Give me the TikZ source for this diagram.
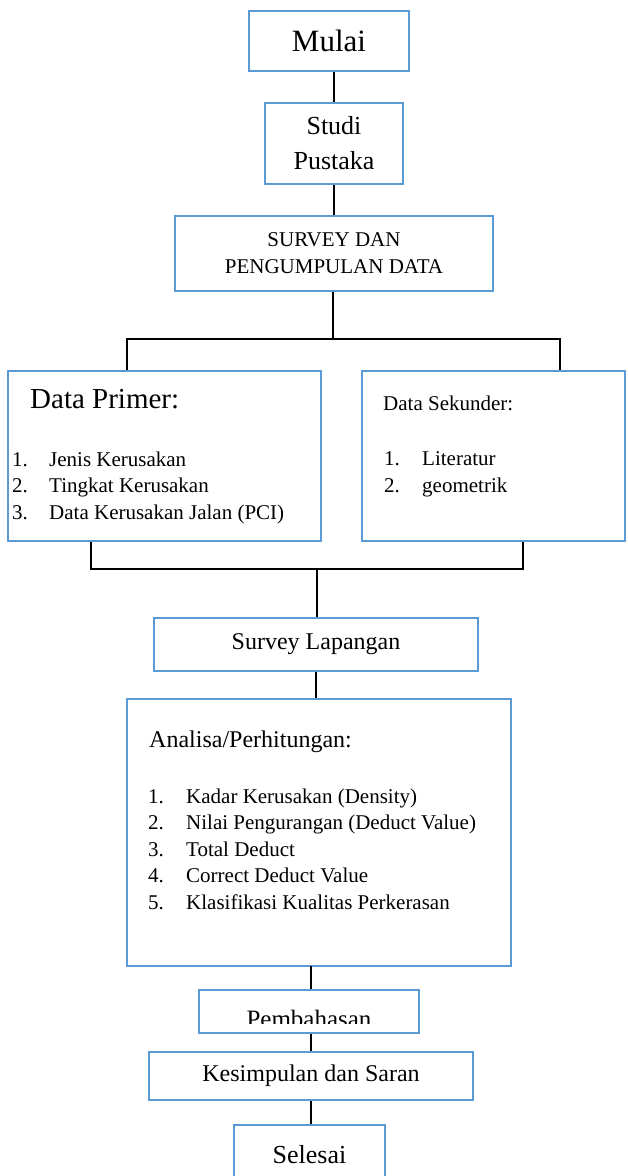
\documentclass[tikz,border=0pt]{standalone}
\usepackage{fontspec}
\setmainfont{Liberation Serif}
\usetikzlibrary{calc}
\definecolor{boxblue}{RGB}{91, 155, 213}

\begin{document}
\begin{tikzpicture}[
    x = 1pt, y = -1pt,
    box/.style = {draw = boxblue, line width = 2pt, inner sep = 0pt, align = center},
    ln/.style = {line width = 1.8pt},
    lbl/.style = {anchor = base west, inner sep = 0pt},
]
\useasboundingbox (0,0) rectangle (627,1176);

% top part
\node[box, minimum width = 160pt, minimum height = 60pt, font = \fontsize{31}{37}\selectfont] (mulai) at (329,41) {Mulai};
\node[box, minimum width = 138pt, minimum height = 81pt, font = \fontsize{26}{35}\selectfont] (studi) at (334,143.5) {Studi\\Pustaka};
\node[box, minimum width = 318pt, minimum height = 75pt, font = \fontsize{21}{27}\selectfont] (survey) at (334,253.5) {SURVEY DAN\\PENGUMPULAN DATA};

\draw[ln] (studi.north |- mulai.south) -- (studi.north);
\draw[ln] (studi.south) -- (studi.south |- survey.north);

% data boxes
\node[box, minimum width = 313pt, minimum height = 170pt] (primer) at (164.5,456) {};
\node[box, minimum width = 263pt, minimum height = 170pt] (sekunder) at (493.5,456) {};

\node[lbl, font = \fontsize{29}{35}\selectfont] (primer-t) at (30,408) {Data Primer:};
\foreach \i/\txt/\y in {1/Jenis Kerusakan/466, 2/Tingkat Kerusakan/492.5, 3/Data Kerusakan Jalan (PCI)/519} {
    \node[lbl, font = \fontsize{21}{26}\selectfont] (primer-n\i) at (12,\y) {\i.};
    \node[lbl, font = \fontsize{21}{26}\selectfont] (primer-\i) at (49,\y) {\txt};
}

\node[lbl, font = \fontsize{21}{26}\selectfont] (sekunder-t) at (383,410) {Data Sekunder:};
\foreach \i/\txt/\y in {1/Literatur/465, 2/geometrik/492} {
    \node[lbl, font = \fontsize{21}{26}\selectfont] (sekunder-n\i) at (384,\y) {\i.};
    \node[lbl, font = \fontsize{21}{26}\selectfont] (sekunder-\i) at (422,\y) {\txt};
}

\coordinate (split) at (333,339);
\coordinate (splitl) at (127,339);
\coordinate (splitr) at (560,339);
\draw[ln] (survey.south -| split) -- (split);
\draw[ln] (splitl |- primer.north) -- (splitl) -- (splitr) -- (splitr |- sekunder.north);

\coordinate (joinl) at (91,569);
\coordinate (joinr) at (523,569);
\coordinate (join) at (317,569);
\draw[ln] (joinl |- primer.south) -- (joinl) -- (joinr) -- (joinr |- sekunder.south);

% lower part
\node[box, minimum width = 324pt, minimum height = 53pt, font = \fontsize{24}{29}\selectfont] (lapangan) at (316,644.5) {Survey Lapangan};
\draw[ln] (join) -- (join |- lapangan.north);

\node[box, minimum width = 384pt, minimum height = 267pt] (analisa) at (319,832.5) {};
\node[lbl, font = \fontsize{24}{29}\selectfont] (analisa-t) at (149,747) {Analisa/Perhitungan:};
\foreach \i/\txt/\y in {1/Kadar Kerusakan (Density)/803, 2/Nilai Pengurangan (Deduct Value)/829.5,
                        3/Total Deduct/856, 4/Correct Deduct Value/882.5, 5/Klasifikasi Kualitas Perkerasan/909} {
    \node[lbl, font = \fontsize{21}{26}\selectfont] (analisa-n\i) at (148,\y) {\i.};
    \node[lbl, font = \fontsize{21}{26}\selectfont] (analisa-\i) at (186,\y) {\txt};
}
\draw[ln] (lapangan.south) -- (lapangan.south |- analisa.north);

\node[box, minimum width = 220pt, minimum height = 43pt] (bahas) at (309,1011.5) {};
\begin{scope}
\clip (199,990) rectangle (419,1023);
\node[anchor = base, inner sep = 0pt, font = \fontsize{25}{30}\selectfont] (bahas-t) at (309,1027) {Pembahasan};
\end{scope}
\draw[ln] (311,966) coordinate (analisa-out) -- (analisa-out |- bahas.north);

\node[box, minimum width = 324pt, minimum height = 48pt, font = \fontsize{24}{29}\selectfont] (kesimpulan) at (311,1076) {Kesimpulan dan Saran};
\node[box, minimum width = 151pt, minimum height = 60pt, font = \fontsize{26}{31}\selectfont] (selesai) at (309.5,1155) {Selesai};

\draw[ln] (kesimpulan.north |- bahas.south) -- (kesimpulan.north);
\draw[ln] (kesimpulan.south) -- (kesimpulan.south |- selesai.north);

\end{tikzpicture}
\end{document}
